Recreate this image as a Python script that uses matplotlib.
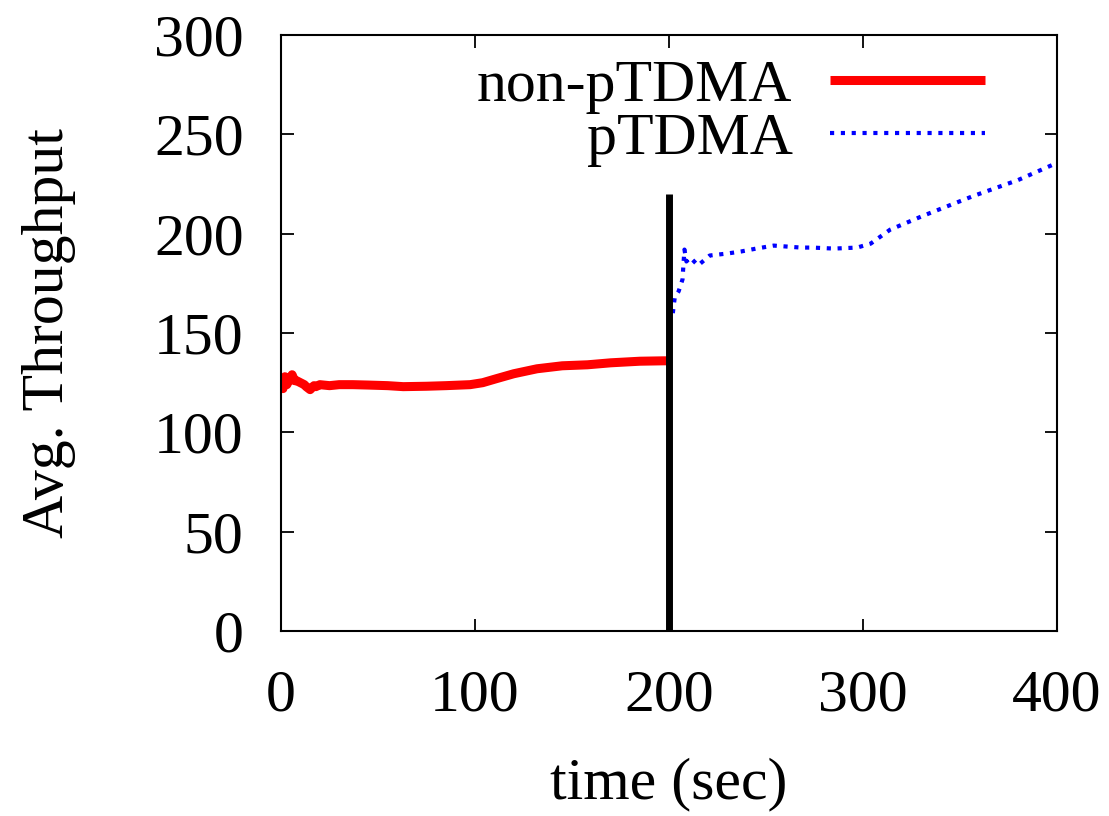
import numpy as np
import matplotlib.pyplot as plt

plt.rc('font', family='Liberation Serif', size=43)

# non-pTDMA phase (0 - 200 s)
t_non = [0, 1, 2, 3, 4, 5.7, 7, 8, 10, 12, 13, 15, 17, 18, 20, 25, 30, 37, 45, 55, 63, 75,
         85, 97.5, 104, 111, 120, 132, 145, 158, 170, 185, 197, 199]
thr_non = [127, 122, 128, 124, 126, 129, 126, 126, 125, 124, 123, 121.5, 123.5, 123, 124,
           123.5, 124, 124, 123.8, 123.5, 123, 123.2, 123.5, 124, 125, 127, 129.5, 132,
           133.5, 134, 135, 135.8, 136, 136]

# pTDMA phase (200 - 400 s)
t_p = [202, 203, 205, 207, 207.5, 208, 209, 211, 215, 221, 230, 237, 245, 254,
       268, 274, 285, 297, 304, 314, 331, 357, 380, 400]
thr_p = [160, 168, 171, 177, 185, 192, 186, 188, 184, 189, 190, 191, 192.5, 194,
         193, 193, 192.5, 193, 195, 202, 209, 219, 227, 235.6]

switch_t = 200
switch_top = 220

fig = plt.figure(figsize=(11.09, 8.16), dpi=100)
ax = fig.add_axes([0.2534, 0.2267, 0.6996, 0.7304])

ax.plot(t_non, thr_non, color='#ff0000', lw=6.5, label='non-pTDMA', solid_capstyle='butt')
ax.plot(t_p, thr_p, color='#0000ff', lw=3, ls=(0, (1, 1.6)), label='pTDMA')
ax.plot([switch_t, switch_t], [0, switch_top], color='k', lw=5, solid_capstyle='butt')

ax.set_xlim(0, 400)
ax.set_ylim(0, 300)
ax.set_xticks([0, 100, 200, 300, 400])
ax.set_yticks([0, 50, 100, 150, 200, 250, 300])
ax.tick_params(direction='in', length=9, width=1.3, top=True, right=True)
ax.tick_params(axis='x', pad=28)
ax.tick_params(axis='y', pad=27)
for s in ax.spines.values():
    s.set_linewidth(1.5)

ax.set_xlabel('time (sec)', labelpad=24)
ax.set_ylabel('Avg. Throughput', labelpad=56)

ax.legend(loc='upper right', bbox_to_anchor=(0.938, 1.0), frameon=False,
          markerfirst=False, handlelength=2.6, handletextpad=0.62,
          labelspacing=-0.03, borderaxespad=0)

plt.savefig('out.png', dpi=100)
